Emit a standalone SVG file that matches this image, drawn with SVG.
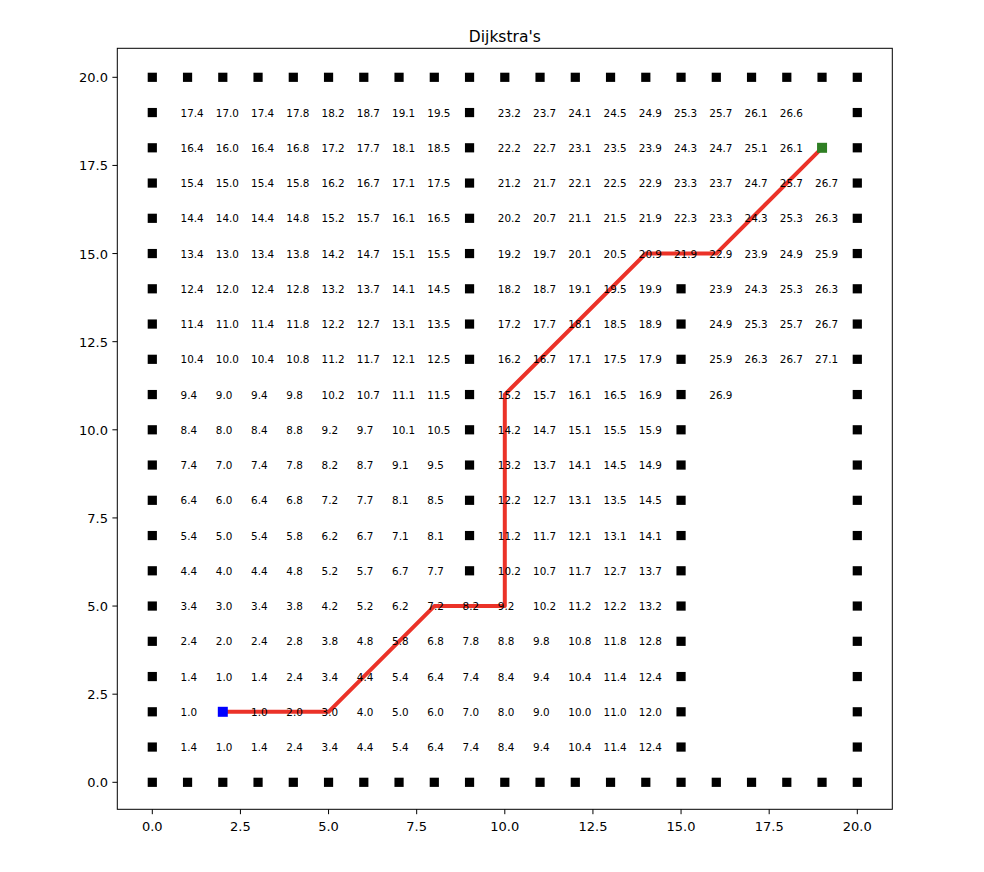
<svg xmlns="http://www.w3.org/2000/svg" xmlns:xlink="http://www.w3.org/1999/xlink" width="984" height="872" viewBox="0 0 984 872">
<style>
text{font-family:"DejaVu Sans","Liberation Sans",sans-serif;fill:#000}
.v{font-size:10.4px}
.tx{font-size:13px;text-anchor:middle}
.ty{font-size:13px;text-anchor:end}
.tk{stroke:#000;stroke-width:1}
.ob{fill:#000}
</style>
<defs>
<rect id="ob" x="-4.6" y="-4.6" width="9.2" height="9.2"/>
</defs>
<rect width="984" height="872" fill="#fff"/>
<text x="504.8" y="41.7" style="font-size:15.5px;text-anchor:middle">Dijkstra's</text>
<g id="axes">
<rect x="117.3" y="48.3" width="775" height="761" fill="none" stroke="#000" stroke-width="1"/>
<g class="tk">
<line x1="152.3" y1="809.3" x2="152.3" y2="814.2"/>
<line x1="240.43" y1="809.3" x2="240.43" y2="814.2"/>
<line x1="328.55" y1="809.3" x2="328.55" y2="814.2"/>
<line x1="416.68" y1="809.3" x2="416.68" y2="814.2"/>
<line x1="504.8" y1="809.3" x2="504.8" y2="814.2"/>
<line x1="592.93" y1="809.3" x2="592.93" y2="814.2"/>
<line x1="681.05" y1="809.3" x2="681.05" y2="814.2"/>
<line x1="769.18" y1="809.3" x2="769.18" y2="814.2"/>
<line x1="857.3" y1="809.3" x2="857.3" y2="814.2"/>
<line x1="117.3" y1="782.3" x2="112.4" y2="782.3"/>
<line x1="117.3" y1="694.18" x2="112.4" y2="694.18"/>
<line x1="117.3" y1="606.05" x2="112.4" y2="606.05"/>
<line x1="117.3" y1="517.93" x2="112.4" y2="517.93"/>
<line x1="117.3" y1="429.8" x2="112.4" y2="429.8"/>
<line x1="117.3" y1="341.68" x2="112.4" y2="341.68"/>
<line x1="117.3" y1="253.55" x2="112.4" y2="253.55"/>
<line x1="117.3" y1="165.43" x2="112.4" y2="165.43"/>
<line x1="117.3" y1="77.3" x2="112.4" y2="77.3"/>
</g>
<text class="tx" x="152.3" y="831">0.0</text>
<text class="tx" x="240.43" y="831">2.5</text>
<text class="tx" x="328.55" y="831">5.0</text>
<text class="tx" x="416.68" y="831">7.5</text>
<text class="tx" x="504.8" y="831">10.0</text>
<text class="tx" x="592.93" y="831">12.5</text>
<text class="tx" x="681.05" y="831">15.0</text>
<text class="tx" x="769.18" y="831">17.5</text>
<text class="tx" x="857.3" y="831">20.0</text>
<text class="ty" x="108" y="787.3">0.0</text>
<text class="ty" x="108" y="699.18">2.5</text>
<text class="ty" x="108" y="611.05">5.0</text>
<text class="ty" x="108" y="522.93">7.5</text>
<text class="ty" x="108" y="434.8">10.0</text>
<text class="ty" x="108" y="346.68">12.5</text>
<text class="ty" x="108" y="258.55">15.0</text>
<text class="ty" x="108" y="170.43">17.5</text>
<text class="ty" x="108" y="82.3">20.0</text>
</g>
<g id="obstacles" class="ob">
<use href="#ob" x="152.3" y="77.3"/><use href="#ob" x="187.55" y="77.3"/><use href="#ob" x="222.8" y="77.3"/><use href="#ob" x="258.05" y="77.3"/><use href="#ob" x="293.3" y="77.3"/><use href="#ob" x="328.55" y="77.3"/><use href="#ob" x="363.8" y="77.3"/><use href="#ob" x="399.05" y="77.3"/><use href="#ob" x="434.3" y="77.3"/><use href="#ob" x="469.55" y="77.3"/><use href="#ob" x="504.8" y="77.3"/><use href="#ob" x="540.05" y="77.3"/><use href="#ob" x="575.3" y="77.3"/><use href="#ob" x="610.55" y="77.3"/><use href="#ob" x="645.8" y="77.3"/><use href="#ob" x="681.05" y="77.3"/><use href="#ob" x="716.3" y="77.3"/><use href="#ob" x="751.55" y="77.3"/><use href="#ob" x="786.8" y="77.3"/><use href="#ob" x="822.05" y="77.3"/><use href="#ob" x="857.3" y="77.3"/>
<use href="#ob" x="152.3" y="782.3"/><use href="#ob" x="187.55" y="782.3"/><use href="#ob" x="222.8" y="782.3"/><use href="#ob" x="258.05" y="782.3"/><use href="#ob" x="293.3" y="782.3"/><use href="#ob" x="328.55" y="782.3"/><use href="#ob" x="363.8" y="782.3"/><use href="#ob" x="399.05" y="782.3"/><use href="#ob" x="434.3" y="782.3"/><use href="#ob" x="469.55" y="782.3"/><use href="#ob" x="504.8" y="782.3"/><use href="#ob" x="540.05" y="782.3"/><use href="#ob" x="575.3" y="782.3"/><use href="#ob" x="610.55" y="782.3"/><use href="#ob" x="645.8" y="782.3"/><use href="#ob" x="681.05" y="782.3"/><use href="#ob" x="716.3" y="782.3"/><use href="#ob" x="751.55" y="782.3"/><use href="#ob" x="786.8" y="782.3"/><use href="#ob" x="822.05" y="782.3"/><use href="#ob" x="857.3" y="782.3"/>
<use href="#ob" x="152.3" y="747.05"/><use href="#ob" x="152.3" y="711.8"/><use href="#ob" x="152.3" y="676.55"/><use href="#ob" x="152.3" y="641.3"/><use href="#ob" x="152.3" y="606.05"/><use href="#ob" x="152.3" y="570.8"/><use href="#ob" x="152.3" y="535.55"/><use href="#ob" x="152.3" y="500.3"/><use href="#ob" x="152.3" y="465.05"/><use href="#ob" x="152.3" y="429.8"/><use href="#ob" x="152.3" y="394.55"/><use href="#ob" x="152.3" y="359.3"/><use href="#ob" x="152.3" y="324.05"/><use href="#ob" x="152.3" y="288.8"/><use href="#ob" x="152.3" y="253.55"/><use href="#ob" x="152.3" y="218.3"/><use href="#ob" x="152.3" y="183.05"/><use href="#ob" x="152.3" y="147.8"/><use href="#ob" x="152.3" y="112.55"/>
<use href="#ob" x="857.3" y="747.05"/><use href="#ob" x="857.3" y="711.8"/><use href="#ob" x="857.3" y="676.55"/><use href="#ob" x="857.3" y="641.3"/><use href="#ob" x="857.3" y="606.05"/><use href="#ob" x="857.3" y="570.8"/><use href="#ob" x="857.3" y="535.55"/><use href="#ob" x="857.3" y="500.3"/><use href="#ob" x="857.3" y="465.05"/><use href="#ob" x="857.3" y="429.8"/><use href="#ob" x="857.3" y="394.55"/><use href="#ob" x="857.3" y="359.3"/><use href="#ob" x="857.3" y="324.05"/><use href="#ob" x="857.3" y="288.8"/><use href="#ob" x="857.3" y="253.55"/><use href="#ob" x="857.3" y="218.3"/><use href="#ob" x="857.3" y="183.05"/><use href="#ob" x="857.3" y="147.8"/><use href="#ob" x="857.3" y="112.55"/>
<use href="#ob" x="469.55" y="570.8"/><use href="#ob" x="469.55" y="535.55"/><use href="#ob" x="469.55" y="500.3"/><use href="#ob" x="469.55" y="465.05"/><use href="#ob" x="469.55" y="429.8"/><use href="#ob" x="469.55" y="394.55"/><use href="#ob" x="469.55" y="359.3"/><use href="#ob" x="469.55" y="324.05"/><use href="#ob" x="469.55" y="288.8"/><use href="#ob" x="469.55" y="253.55"/><use href="#ob" x="469.55" y="218.3"/><use href="#ob" x="469.55" y="183.05"/><use href="#ob" x="469.55" y="147.8"/><use href="#ob" x="469.55" y="112.55"/>
<use href="#ob" x="681.05" y="747.05"/><use href="#ob" x="681.05" y="711.8"/><use href="#ob" x="681.05" y="676.55"/><use href="#ob" x="681.05" y="641.3"/><use href="#ob" x="681.05" y="606.05"/><use href="#ob" x="681.05" y="570.8"/><use href="#ob" x="681.05" y="535.55"/><use href="#ob" x="681.05" y="500.3"/><use href="#ob" x="681.05" y="465.05"/><use href="#ob" x="681.05" y="429.8"/><use href="#ob" x="681.05" y="394.55"/><use href="#ob" x="681.05" y="359.3"/><use href="#ob" x="681.05" y="324.05"/><use href="#ob" x="681.05" y="288.8"/>
</g>
<g id="path">
<polyline points="222.8,711.8 328.55,711.8 434.3,606.05 504.8,606.05 504.8,394.55 645.8,253.55 716.3,253.55 822.05,147.8" fill="none" stroke="#eb3228" stroke-width="4" stroke-linejoin="round"/>
</g>
<g id="start"><rect x="217.8" y="706.8" width="10" height="10" fill="#0000ff"/></g>
<g id="goal"><rect x="817.05" y="142.8" width="10" height="10" fill="#2f7f24"/></g>
<g id="costs" class="v">
<text x="180.55" y="116.55">17.4</text><text x="215.8" y="116.55">17.0</text><text x="251.05" y="116.55">17.4</text><text x="286.3" y="116.55">17.8</text><text x="321.55" y="116.55">18.2</text><text x="356.8" y="116.55">18.7</text><text x="392.05" y="116.55">19.1</text><text x="427.3" y="116.55">19.5</text><text x="497.8" y="116.55">23.2</text><text x="533.05" y="116.55">23.7</text><text x="568.3" y="116.55">24.1</text><text x="603.55" y="116.55">24.5</text><text x="638.8" y="116.55">24.9</text><text x="674.05" y="116.55">25.3</text><text x="709.3" y="116.55">25.7</text><text x="744.55" y="116.55">26.1</text><text x="779.8" y="116.55">26.6</text>
<text x="180.55" y="151.8">16.4</text><text x="215.8" y="151.8">16.0</text><text x="251.05" y="151.8">16.4</text><text x="286.3" y="151.8">16.8</text><text x="321.55" y="151.8">17.2</text><text x="356.8" y="151.8">17.7</text><text x="392.05" y="151.8">18.1</text><text x="427.3" y="151.8">18.5</text><text x="497.8" y="151.8">22.2</text><text x="533.05" y="151.8">22.7</text><text x="568.3" y="151.8">23.1</text><text x="603.55" y="151.8">23.5</text><text x="638.8" y="151.8">23.9</text><text x="674.05" y="151.8">24.3</text><text x="709.3" y="151.8">24.7</text><text x="744.55" y="151.8">25.1</text><text x="779.8" y="151.8">26.1</text>
<text x="180.55" y="187.05">15.4</text><text x="215.8" y="187.05">15.0</text><text x="251.05" y="187.05">15.4</text><text x="286.3" y="187.05">15.8</text><text x="321.55" y="187.05">16.2</text><text x="356.8" y="187.05">16.7</text><text x="392.05" y="187.05">17.1</text><text x="427.3" y="187.05">17.5</text><text x="497.8" y="187.05">21.2</text><text x="533.05" y="187.05">21.7</text><text x="568.3" y="187.05">22.1</text><text x="603.55" y="187.05">22.5</text><text x="638.8" y="187.05">22.9</text><text x="674.05" y="187.05">23.3</text><text x="709.3" y="187.05">23.7</text><text x="744.55" y="187.05">24.7</text><text x="779.8" y="187.05">25.7</text><text x="815.05" y="187.05">26.7</text>
<text x="180.55" y="222.3">14.4</text><text x="215.8" y="222.3">14.0</text><text x="251.05" y="222.3">14.4</text><text x="286.3" y="222.3">14.8</text><text x="321.55" y="222.3">15.2</text><text x="356.8" y="222.3">15.7</text><text x="392.05" y="222.3">16.1</text><text x="427.3" y="222.3">16.5</text><text x="497.8" y="222.3">20.2</text><text x="533.05" y="222.3">20.7</text><text x="568.3" y="222.3">21.1</text><text x="603.55" y="222.3">21.5</text><text x="638.8" y="222.3">21.9</text><text x="674.05" y="222.3">22.3</text><text x="709.3" y="222.3">23.3</text><text x="744.55" y="222.3">24.3</text><text x="779.8" y="222.3">25.3</text><text x="815.05" y="222.3">26.3</text>
<text x="180.55" y="257.55">13.4</text><text x="215.8" y="257.55">13.0</text><text x="251.05" y="257.55">13.4</text><text x="286.3" y="257.55">13.8</text><text x="321.55" y="257.55">14.2</text><text x="356.8" y="257.55">14.7</text><text x="392.05" y="257.55">15.1</text><text x="427.3" y="257.55">15.5</text><text x="497.8" y="257.55">19.2</text><text x="533.05" y="257.55">19.7</text><text x="568.3" y="257.55">20.1</text><text x="603.55" y="257.55">20.5</text><text x="638.8" y="257.55">20.9</text><text x="674.05" y="257.55">21.9</text><text x="709.3" y="257.55">22.9</text><text x="744.55" y="257.55">23.9</text><text x="779.8" y="257.55">24.9</text><text x="815.05" y="257.55">25.9</text>
<text x="180.55" y="292.8">12.4</text><text x="215.8" y="292.8">12.0</text><text x="251.05" y="292.8">12.4</text><text x="286.3" y="292.8">12.8</text><text x="321.55" y="292.8">13.2</text><text x="356.8" y="292.8">13.7</text><text x="392.05" y="292.8">14.1</text><text x="427.3" y="292.8">14.5</text><text x="497.8" y="292.8">18.2</text><text x="533.05" y="292.8">18.7</text><text x="568.3" y="292.8">19.1</text><text x="603.55" y="292.8">19.5</text><text x="638.8" y="292.8">19.9</text><text x="709.3" y="292.8">23.9</text><text x="744.55" y="292.8">24.3</text><text x="779.8" y="292.8">25.3</text><text x="815.05" y="292.8">26.3</text>
<text x="180.55" y="328.05">11.4</text><text x="215.8" y="328.05">11.0</text><text x="251.05" y="328.05">11.4</text><text x="286.3" y="328.05">11.8</text><text x="321.55" y="328.05">12.2</text><text x="356.8" y="328.05">12.7</text><text x="392.05" y="328.05">13.1</text><text x="427.3" y="328.05">13.5</text><text x="497.8" y="328.05">17.2</text><text x="533.05" y="328.05">17.7</text><text x="568.3" y="328.05">18.1</text><text x="603.55" y="328.05">18.5</text><text x="638.8" y="328.05">18.9</text><text x="709.3" y="328.05">24.9</text><text x="744.55" y="328.05">25.3</text><text x="779.8" y="328.05">25.7</text><text x="815.05" y="328.05">26.7</text>
<text x="180.55" y="363.3">10.4</text><text x="215.8" y="363.3">10.0</text><text x="251.05" y="363.3">10.4</text><text x="286.3" y="363.3">10.8</text><text x="321.55" y="363.3">11.2</text><text x="356.8" y="363.3">11.7</text><text x="392.05" y="363.3">12.1</text><text x="427.3" y="363.3">12.5</text><text x="497.8" y="363.3">16.2</text><text x="533.05" y="363.3">16.7</text><text x="568.3" y="363.3">17.1</text><text x="603.55" y="363.3">17.5</text><text x="638.8" y="363.3">17.9</text><text x="709.3" y="363.3">25.9</text><text x="744.55" y="363.3">26.3</text><text x="779.8" y="363.3">26.7</text><text x="815.05" y="363.3">27.1</text>
<text x="180.55" y="398.55">9.4</text><text x="215.8" y="398.55">9.0</text><text x="251.05" y="398.55">9.4</text><text x="286.3" y="398.55">9.8</text><text x="321.55" y="398.55">10.2</text><text x="356.8" y="398.55">10.7</text><text x="392.05" y="398.55">11.1</text><text x="427.3" y="398.55">11.5</text><text x="497.8" y="398.55">15.2</text><text x="533.05" y="398.55">15.7</text><text x="568.3" y="398.55">16.1</text><text x="603.55" y="398.55">16.5</text><text x="638.8" y="398.55">16.9</text><text x="709.3" y="398.55">26.9</text>
<text x="180.55" y="433.8">8.4</text><text x="215.8" y="433.8">8.0</text><text x="251.05" y="433.8">8.4</text><text x="286.3" y="433.8">8.8</text><text x="321.55" y="433.8">9.2</text><text x="356.8" y="433.8">9.7</text><text x="392.05" y="433.8">10.1</text><text x="427.3" y="433.8">10.5</text><text x="497.8" y="433.8">14.2</text><text x="533.05" y="433.8">14.7</text><text x="568.3" y="433.8">15.1</text><text x="603.55" y="433.8">15.5</text><text x="638.8" y="433.8">15.9</text>
<text x="180.55" y="469.05">7.4</text><text x="215.8" y="469.05">7.0</text><text x="251.05" y="469.05">7.4</text><text x="286.3" y="469.05">7.8</text><text x="321.55" y="469.05">8.2</text><text x="356.8" y="469.05">8.7</text><text x="392.05" y="469.05">9.1</text><text x="427.3" y="469.05">9.5</text><text x="497.8" y="469.05">13.2</text><text x="533.05" y="469.05">13.7</text><text x="568.3" y="469.05">14.1</text><text x="603.55" y="469.05">14.5</text><text x="638.8" y="469.05">14.9</text>
<text x="180.55" y="504.3">6.4</text><text x="215.8" y="504.3">6.0</text><text x="251.05" y="504.3">6.4</text><text x="286.3" y="504.3">6.8</text><text x="321.55" y="504.3">7.2</text><text x="356.8" y="504.3">7.7</text><text x="392.05" y="504.3">8.1</text><text x="427.3" y="504.3">8.5</text><text x="497.8" y="504.3">12.2</text><text x="533.05" y="504.3">12.7</text><text x="568.3" y="504.3">13.1</text><text x="603.55" y="504.3">13.5</text><text x="638.8" y="504.3">14.5</text>
<text x="180.55" y="539.55">5.4</text><text x="215.8" y="539.55">5.0</text><text x="251.05" y="539.55">5.4</text><text x="286.3" y="539.55">5.8</text><text x="321.55" y="539.55">6.2</text><text x="356.8" y="539.55">6.7</text><text x="392.05" y="539.55">7.1</text><text x="427.3" y="539.55">8.1</text><text x="497.8" y="539.55">11.2</text><text x="533.05" y="539.55">11.7</text><text x="568.3" y="539.55">12.1</text><text x="603.55" y="539.55">13.1</text><text x="638.8" y="539.55">14.1</text>
<text x="180.55" y="574.8">4.4</text><text x="215.8" y="574.8">4.0</text><text x="251.05" y="574.8">4.4</text><text x="286.3" y="574.8">4.8</text><text x="321.55" y="574.8">5.2</text><text x="356.8" y="574.8">5.7</text><text x="392.05" y="574.8">6.7</text><text x="427.3" y="574.8">7.7</text><text x="497.8" y="574.8">10.2</text><text x="533.05" y="574.8">10.7</text><text x="568.3" y="574.8">11.7</text><text x="603.55" y="574.8">12.7</text><text x="638.8" y="574.8">13.7</text>
<text x="180.55" y="610.05">3.4</text><text x="215.8" y="610.05">3.0</text><text x="251.05" y="610.05">3.4</text><text x="286.3" y="610.05">3.8</text><text x="321.55" y="610.05">4.2</text><text x="356.8" y="610.05">5.2</text><text x="392.05" y="610.05">6.2</text><text x="427.3" y="610.05">7.2</text><text x="462.55" y="610.05">8.2</text><text x="497.8" y="610.05">9.2</text><text x="533.05" y="610.05">10.2</text><text x="568.3" y="610.05">11.2</text><text x="603.55" y="610.05">12.2</text><text x="638.8" y="610.05">13.2</text>
<text x="180.55" y="645.3">2.4</text><text x="215.8" y="645.3">2.0</text><text x="251.05" y="645.3">2.4</text><text x="286.3" y="645.3">2.8</text><text x="321.55" y="645.3">3.8</text><text x="356.8" y="645.3">4.8</text><text x="392.05" y="645.3">5.8</text><text x="427.3" y="645.3">6.8</text><text x="462.55" y="645.3">7.8</text><text x="497.8" y="645.3">8.8</text><text x="533.05" y="645.3">9.8</text><text x="568.3" y="645.3">10.8</text><text x="603.55" y="645.3">11.8</text><text x="638.8" y="645.3">12.8</text>
<text x="180.55" y="680.55">1.4</text><text x="215.8" y="680.55">1.0</text><text x="251.05" y="680.55">1.4</text><text x="286.3" y="680.55">2.4</text><text x="321.55" y="680.55">3.4</text><text x="356.8" y="680.55">4.4</text><text x="392.05" y="680.55">5.4</text><text x="427.3" y="680.55">6.4</text><text x="462.55" y="680.55">7.4</text><text x="497.8" y="680.55">8.4</text><text x="533.05" y="680.55">9.4</text><text x="568.3" y="680.55">10.4</text><text x="603.55" y="680.55">11.4</text><text x="638.8" y="680.55">12.4</text>
<text x="180.55" y="715.8">1.0</text><text x="251.05" y="715.8">1.0</text><text x="286.3" y="715.8">2.0</text><text x="321.55" y="715.8">3.0</text><text x="356.8" y="715.8">4.0</text><text x="392.05" y="715.8">5.0</text><text x="427.3" y="715.8">6.0</text><text x="462.55" y="715.8">7.0</text><text x="497.8" y="715.8">8.0</text><text x="533.05" y="715.8">9.0</text><text x="568.3" y="715.8">10.0</text><text x="603.55" y="715.8">11.0</text><text x="638.8" y="715.8">12.0</text>
<text x="180.55" y="751.05">1.4</text><text x="215.8" y="751.05">1.0</text><text x="251.05" y="751.05">1.4</text><text x="286.3" y="751.05">2.4</text><text x="321.55" y="751.05">3.4</text><text x="356.8" y="751.05">4.4</text><text x="392.05" y="751.05">5.4</text><text x="427.3" y="751.05">6.4</text><text x="462.55" y="751.05">7.4</text><text x="497.8" y="751.05">8.4</text><text x="533.05" y="751.05">9.4</text><text x="568.3" y="751.05">10.4</text><text x="603.55" y="751.05">11.4</text><text x="638.8" y="751.05">12.4</text>
</g>
</svg>
